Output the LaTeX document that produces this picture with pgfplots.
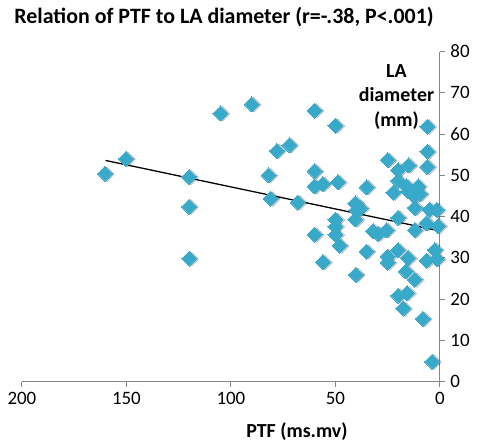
\documentclass[border=0pt]{standalone}
\usepackage{fontspec}
\setmainfont{Carlito}
\usepackage{pgfplots}
\pgfplotsset{compat=1.18}
\definecolor{ptcol}{RGB}{56,169,200}
\definecolor{axgray}{RGB}{134,134,134}
\pgfplotstableread{
x y
160.3 50.4
150.2 54.0
120 49.6
120 42.4
120 29.8
105 65
90 67.2
82 50
81 44.3
78 55.9
72 57.3
68 43.4
60 65.7
60 51
60 47.3
60 35.6
56 47.9
56 28.9
50 62
48.8 48.3
50 39.2
50 37.6
50 35.6
48 32.9
40.5 43.2
40 41.5
40.5 39.3
38 42
40.2 25.9
35.1 47.1
35.1 31.5
32 36.4
29.5 35.8
25.5 36.7
25 53.7
25 30.3
25 28.8
22.3 45.8
20 51.2
20 48.7
20 39.7
20 31.8
20 20.8
17.6 17.7
15.7 21.4
16.3 26.7
15.2 29.9
15 52.4
15.9 47.3
15.2 46.1
12.3 44.9
10.4 47.3
9.6 45.5
12 42.1
12 36.7
12 24.7
8.2 15.2
6 61.8
6 55.7
6 52
5 41.6
1.6 41.6
6.4 38.4
0.8 37.7
6.4 29.3
2.4 31.9
1.6 29.7
3.7 4.8
}\ptfdata
\begin{document}
\begin{tikzpicture}
\begin{axis}[
  scale only axis,
  width=418bp, height=330bp,
  xmin=0, xmax=200, ymin=0, ymax=80,
  x dir=reverse,
  axis x line=bottom, axis y line=right,
  axis line style={-, axgray, line width=1pt},
  xtick={0,50,100,150,200},
  ytick={0,10,20,30,40,50,60,70,80},
  tick align=outside,
  major tick length=5bp,
  tick style={axgray, line width=1pt},
  /pgf/number format/assume math mode=true,
  tick label style={font=\fontsize{19}{19}\selectfont},
  y tick label style={anchor=west, xshift=2bp},
  x tick label style={yshift=-2bp},
  clip=false,
]
\addplot[only marks, mark=square*, mark size=5.3bp, mark options={rotate=45, fill=black, draw=none, opacity=0.18, xshift=1.2bp, yshift=-1.8bp}] table[x=x,y=y] {\ptfdata};
\addplot[only marks, mark=square*, mark size=5.3bp, mark options={rotate=45, fill=ptcol, draw=ptcol, line width=0pt}] table[x=x,y=y] {\ptfdata};
\addplot[black, line width=1.3pt] coordinates {(160,53.6) (0,36.5)};
\node[font=\fontsize{22}{22}\selectfont\bfseries, anchor=center] at (axis cs:103.3,88.3) {Relation of PTF to LA diameter (r=-.38, P<.001)};
\node[font=\fontsize{20}{24.5}\selectfont\bfseries, align=center, anchor=center] at (axis cs:20.8,69) {LA\\diameter\\(mm)};
\node[font=\fontsize{20}{20}\selectfont\bfseries, anchor=center] at (axis cs:68.4,-12.1) {PTF (ms.mv)};
\coordinate (bbA) at (axis cs:210.5,-14.5);
\coordinate (bbB) at (axis cs:-18.7,92.5);
\end{axis}
\pgfresetboundingbox
\path (bbA) rectangle (bbB);
\end{tikzpicture}
\end{document}
